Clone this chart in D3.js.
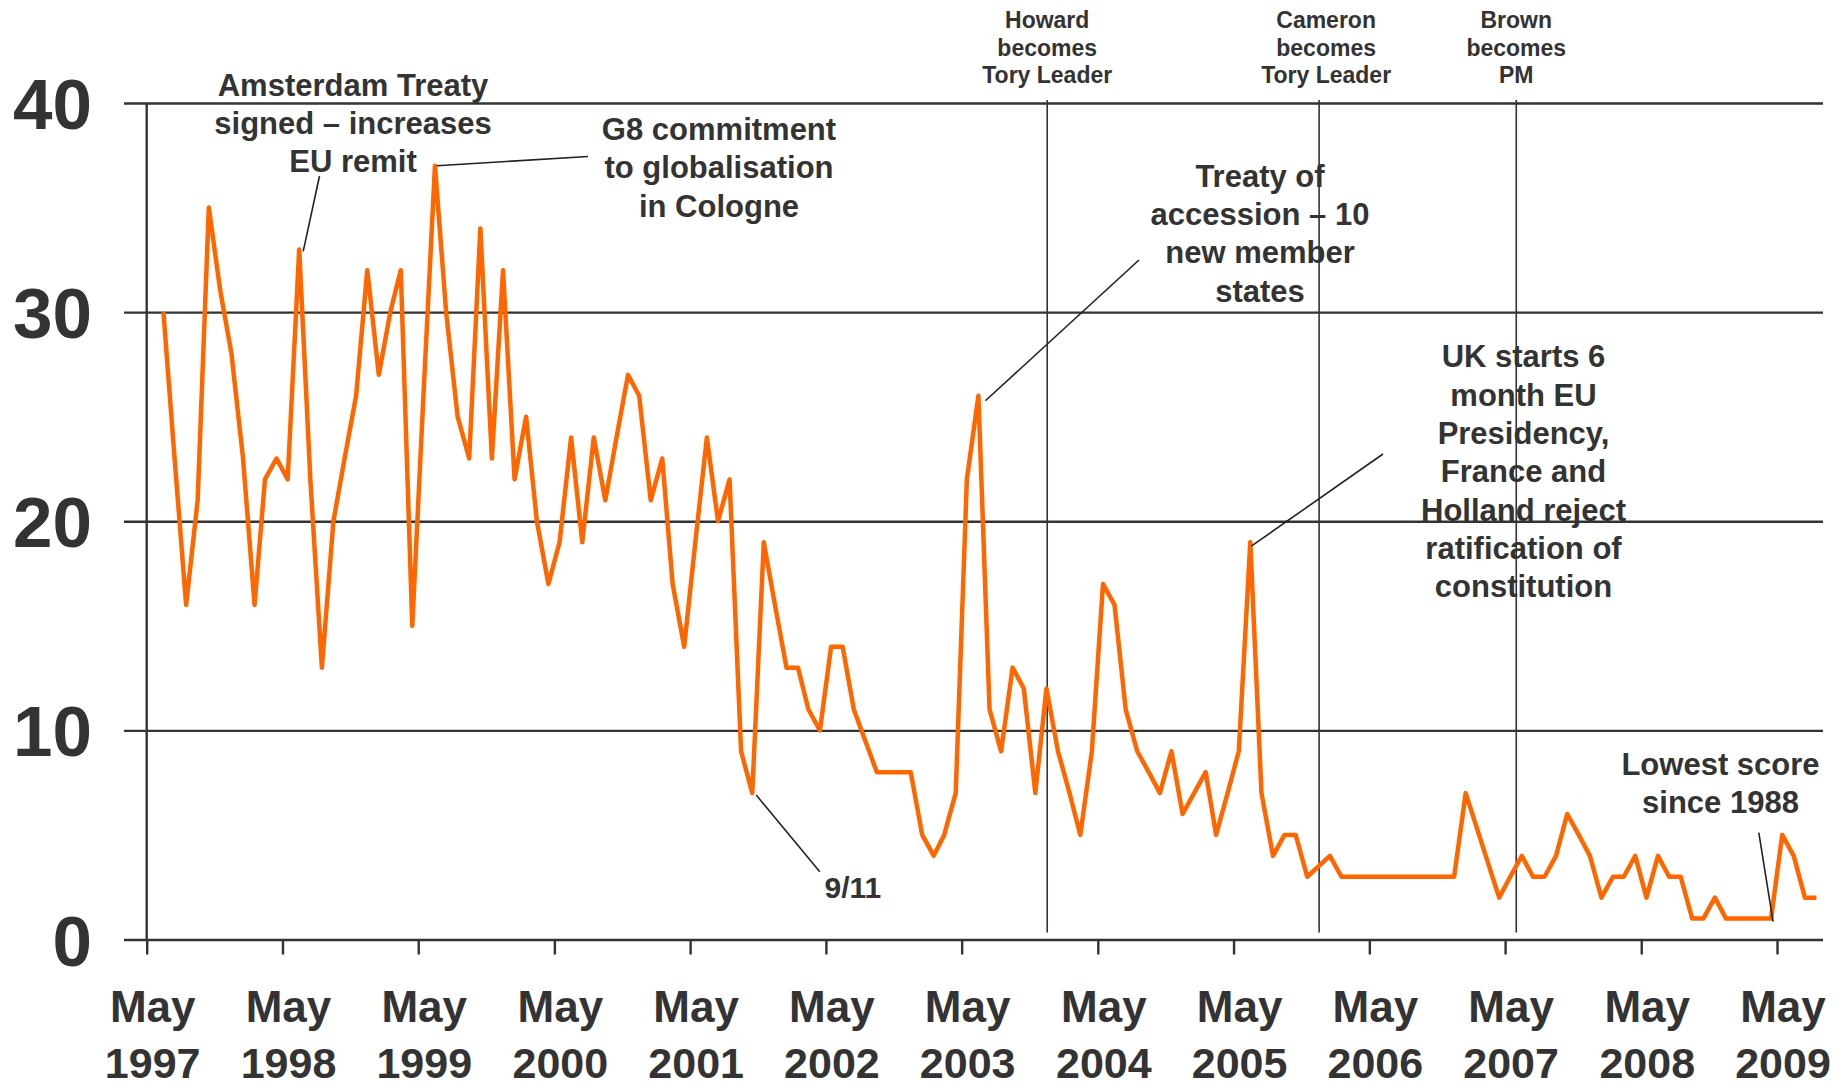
<!DOCTYPE html>
<html>
<head>
<meta charset="utf-8">
<script src="https://cdn.jsdelivr.net/npm/d3@7"></script>
<style>
  body { margin: 0; background: #fff; }
  svg { display: block; }
  text { font-family: "Liberation Sans", Arial, Helvetica, sans-serif; font-weight: bold; fill: #333; }
</style>
</head>
<body>
<svg id="chart" width="1841" height="1088"></svg>
<script>
// ---------------- DATA ----------------
// First monthly reading (mid-June 1997); one value per month, null = no reading that month
const firstReading = "1997-06-15";
const values = [
  30, 23, 16, 21, 35, 31, 28, 23, 16, 22, 23, 22,   // Jun 97 - May 98
  33, 22, 13, 20, 23, 26, 32, 27, 30, 32, 15, 26,   // Jun 98 - May 99
  37, 30, 25, 23, 34, 23, 32, 22, 25, 20, 17, 19,   // Jun 99 - May 00
  24, 19, 24, 21, 24, 27, 26, 21, 23, 17, 14, 19,   // Jun 00 - May 01
  24, 20, 22, 9, 7, 19, 16, 13, 13, 11, 10, 14,     // Jun 01 - May 02
  14, 11, null, 8, 8, 8, 8, 5, 4, 5, 7, 22,         // Jun 02 - May 03
  26, 11, 9, 13, 12, 7, 12, 9, 7, 5, 9, 17,         // Jun 03 - May 04
  16, 11, 9, 8, 7, 9, 6, 7, 8, 5, 7, 9,             // Jun 04 - May 05
  19, 7, 4, 5, 5, 3, null, 4, 3, 3, 3, 3,           // Jun 05 - May 06
  3, 3, 3, 3, 3, 3, 3, 7, null, null, 2, 3,         // Jun 06 - May 07
  4, 3, 3, 4, 6, 5, 4, 2, 3, 3, 4, 2,               // Jun 07 - May 08
  4, 3, 3, 1, 1, 2, 1, 1, 1, 1, 1, 5,               // Jun 08 - May 09
  4, 2, 2                                           // Jun 09 - Aug 09
];
const yTickValues = [0, 10, 20, 30, 40];
const tickYears = [1997, 1998, 1999, 2000, 2001, 2002, 2003, 2004, 2005, 2006, 2007, 2008, 2009];
const tickMonthLabel = "May";

const eventDates = ["2003-12-17", "2005-12-17", "2007-05-31"];
const eventLabels = [
  ["Howard", "becomes", "Tory Leader"],
  ["Cameron", "becomes", "Tory Leader"],
  ["Brown", "becomes", "PM"]
];

// annotation texts, each tied to the reading (month index) it points to
const noteIndex = [12, 24, 72, 96, 52, 142];
const noteText = [
  ["Amsterdam Treaty", "signed \u2013 increases", "EU remit"],
  ["G8 commitment", "to globalisation", "in Cologne"],
  ["Treaty of", "accession \u2013 10", "new member", "states"],
  ["UK starts 6", "month EU", "Presidency,", "France and", "Holland reject", "ratification of", "constitution"],
  ["9/11"],
  ["Lowest score", "since 1988"]
];

// ---------------- LAYOUT ----------------
const W = 1841, H = 1088;
const left = 146.7, right = 1777;      // May 1997 .. May 2009
const gridLeft = 124, gridRight = 1823;
const parse = d3.timeParse("%Y-%m-%d");

const x = d3.scaleTime()
  .domain([new Date(tickYears[0], 4, 1), new Date(tickYears[tickYears.length - 1], 4, 1)])
  .range([left, right]);
const y = d3.scaleLinear().domain([0, 40]).range([939.5, 103]);

const start = parse(firstReading);
const series = values.map((v, i) => ({ date: d3.timeMonth.offset(start, i), v, i }));
const drawn = series.filter(d => d.v !== null);

const svg = d3.select("#chart");
svg.append("rect").attr("width", W).attr("height", H).attr("fill", "#fff");

// y axis with gridlines
const yAxis = d3.axisLeft(y)
  .tickValues(yTickValues)
  .tickSize(-(gridRight - gridLeft))
  .tickPadding(32)
  .tickFormat(d3.format("d"));
const gy = svg.append("g").attr("transform", `translate(${gridLeft},0)`).call(yAxis);
gy.select(".domain").remove();
gy.selectAll(".tick line").attr("stroke", "#333").attr("stroke-width", 2.4);
gy.selectAll(".tick text")
  .attr("font-size", 71)
  .attr("dy", "0.36em")
  .style("font-family", '"Liberation Sans", Arial, sans-serif')
  .attr("fill", "#333");

// vertical y axis line
svg.append("line")
  .attr("x1", x.range()[0]).attr("x2", x.range()[0])
  .attr("y1", y(40)).attr("y2", y(0))
  .attr("stroke", "#333").attr("stroke-width", 2.4);

// bottom axis ticks
const tickDates = tickYears.map(yr => new Date(yr, 4, 1));
const xAxis = d3.axisBottom(x).tickValues(tickDates).tickSize(15).tickFormat("");
const gx = svg.append("g").attr("transform", `translate(0,${y(0)})`).call(xAxis);
gx.select(".domain").remove();
gx.selectAll(".tick line").attr("stroke", "#333").attr("stroke-width", 2.4);
gx.selectAll(".tick").each(function (d) {
  const g = d3.select(this);
  g.append("text").attr("x", 5.5).attr("y", 82).attr("text-anchor", "middle")
    .attr("font-size", 44).attr("fill", "#333").text(tickMonthLabel);
  g.append("text").attr("x", 5.5).attr("y", 138.5).attr("text-anchor", "middle")
    .attr("font-size", 43).attr("fill", "#333").text(d.getFullYear());
});

// event lines
const evDx = [0, 7, 0];
eventDates.forEach((ds, k) => {
  const ex = x(parse(ds));
  svg.append("line")
    .attr("x1", ex).attr("x2", ex)
    .attr("y1", y(40) - 3).attr("y2", y(0) - 7)
    .attr("stroke", "#333").attr("stroke-width", 1.6);
  const t = svg.append("text").attr("text-anchor", "middle").attr("font-size", 23);
  eventLabels[k].forEach((ln, j) => {
    t.append("tspan").attr("x", ex + evDx[k]).attr("y", 28.3 + j * 27.5).text(ln);
  });
});

// data line
const line = d3.line().x(d => x(d.date)).y(d => y(d.v));
svg.append("path")
  .datum(drawn)
  .attr("d", line)
  .attr("fill", "none")
  .attr("stroke", "#ff6600")
  .attr("stroke-width", 4.5)
  .attr("stroke-linejoin", "round");

// annotations: leader line from the reading to the label, then text
const noteLayout = [
  { off: [4, 2],  end: [319.5, 176],   cx: 353,    y0: 95.5,  size: 31, anchor: "middle" },
  { off: [2, 0],  end: [588, 156.5],   cx: 719,    y0: 140,   size: 31, anchor: "middle" },
  { off: [7, 5],  end: [1139, 260],    cx: 1260,   y0: 186.7, size: 31, anchor: "middle" },
  { off: [1, 4],  end: [1383, 454],    cx: 1523.5, y0: 367.3, size: 31, anchor: "middle" },
  { off: [4, 2],  end: [819.8, 871.7], cx: 824.5,  y0: 898,   size: 30, anchor: "start" },
  { off: [2, 3],  end: [1758.8, 832.7], cx: 1720.5, y0: 775,  size: 31, anchor: "middle" }
];
noteIndex.forEach((idx, k) => {
  const d = series[idx];
  const L = noteLayout[k];
  svg.append("line")
    .attr("x1", x(d.date) + L.off[0]).attr("y1", y(d.v) + L.off[1])
    .attr("x2", L.end[0]).attr("y2", L.end[1])
    .attr("stroke", "#222").attr("stroke-width", 1.6);
  const t = svg.append("text").attr("text-anchor", L.anchor).attr("font-size", L.size);
  noteText[k].forEach((ln, j) => {
    t.append("tspan").attr("x", L.cx).attr("y", L.y0 + j * 38.3).text(ln);
  });
});
</script>
</body>
</html>
